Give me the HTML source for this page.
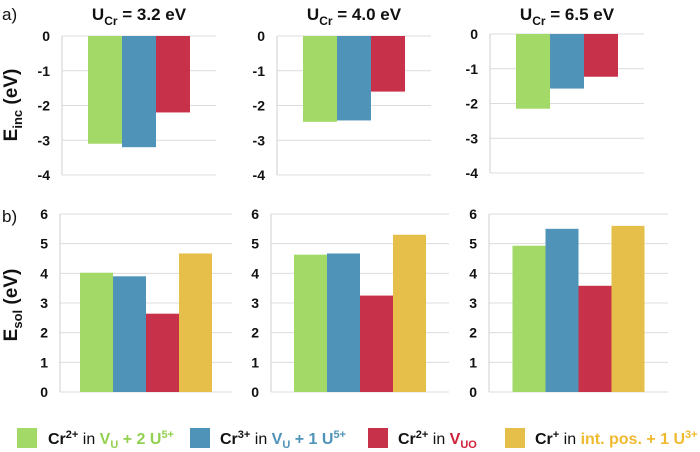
<!DOCTYPE html>
<html><head><meta charset="utf-8"><style>
body{margin:0;background:#fff;}
svg{display:block;font-family:"Liberation Sans",Arial,sans-serif;}
</style></head><body>
<svg id="c" width="700" height="452" viewBox="0 0 700 452">
<text x="2" y="20" font-size="17" fill="#111">a)</text>
<text x="2" y="222" font-size="17" fill="#111">b)</text>
<text transform="translate(17,105) rotate(-90)" text-anchor="middle" font-size="19" font-weight="bold" fill="#111">E<tspan font-size="13" dy="5">inc</tspan><tspan dy="-5"> (eV)</tspan></text>
<text transform="translate(17,305) rotate(-90)" text-anchor="middle" font-size="19" font-weight="bold" fill="#111">E<tspan font-size="13" dy="5">sol</tspan><tspan dy="-5"> (eV)</tspan></text>
<g id="plots"></g>
<g font-size="16" font-weight="bold">
 <rect x="17" y="428" width="20" height="20" fill="#a3d966"/>
 <text x="48" y="444" fill="#111">Cr<tspan font-size="11" dy="-6">2+</tspan><tspan dy="6" font-weight="normal"> in </tspan><tspan fill="#92d050">V<tspan font-size="11" dy="4">U</tspan><tspan dy="-4"> + 2 U</tspan><tspan font-size="11" dy="-6">5+</tspan></tspan></text>
 <rect x="190" y="428" width="20" height="20" fill="#4f93b8"/>
 <text x="220" y="444" fill="#111">Cr<tspan font-size="11" dy="-6">3+</tspan><tspan dy="6" font-weight="normal"> in </tspan><tspan fill="#4f93b8">V<tspan font-size="11" dy="4">U</tspan><tspan dy="-4"> + 1 U</tspan><tspan font-size="11" dy="-6">5+</tspan></tspan></text>
 <rect x="368" y="428" width="20" height="20" fill="#c8314a"/>
 <text x="398" y="444" fill="#111">Cr<tspan font-size="11" dy="-6">2+</tspan><tspan dy="6" font-weight="normal"> in </tspan><tspan fill="#d0213a">V<tspan font-size="11" dy="4">UO</tspan></tspan></text>
 <rect x="505" y="428" width="20" height="20" fill="#e6bf4a"/>
 <text x="535" y="444" fill="#111">Cr<tspan font-size="11" dy="-6">+</tspan><tspan dy="6" font-weight="normal"> in </tspan><tspan fill="#f0b930">int. pos. + 1 U<tspan font-size="11" dy="-6">3+</tspan></tspan></text>
</g>
</svg>
<script>
const panelTitles = ["3.2", "4.0", "6.5"];
const seriesNames = ["green", "blue", "red", "yellow"];
const incValues1 = [-3.1, -3.2, -2.2];
const incValues2 = [-2.47, -2.43, -1.6];
const incValues3 = [-2.15, -1.57, -1.23];
const solValues1 = [4.02, 3.9, 2.64, 4.67];
const solValues2 = [4.63, 4.67, 3.25, 5.3];
const solValues3 = [4.93, 5.5, 3.58, 5.6];
const incTicks = [0, -1, -2, -3, -4];
const solTicks = [0, 1, 2, 3, 4, 5, 6];

const colors = ["#a3d966", "#4f93b8", "#c8314a", "#e6bf4a"];
const NS = "http://www.w3.org/2000/svg";
const g = document.getElementById("plots");
function mk(tag, attrs, parent) {
  const e = document.createElementNS(NS, tag);
  for (const k in attrs) e.setAttribute(k, attrs[k]);
  (parent || g).appendChild(e);
  return e;
}
const topLayout = [{x0:62,x1:216},{x0:277,x1:431},{x0:490,x1:644}];
const botLayout = [{x0:60,x1:232},{x0:271,x1:449},{x0:489,x1:668}];
const incAll = [incValues1, incValues2, incValues3];
const solAll = [solValues1, solValues2, solValues3];

function drawPanel(L, vals, ticks, yMin, yMax, yTop, yBot, barW, name, idx) {
  const y = v => yTop + (yMax - v) / (yMax - yMin) * (yBot - yTop);
  ticks.forEach(t => {
    const l = mk("line", {x1:L.x0, x2:L.x1, y1:y(t), y2:y(t), stroke:"#dcdcdc", "stroke-width":1});
    
    
    const tx = mk("text", {x:L.x0-12, y:y(t)+5, "text-anchor":"end", "font-size":"14", "font-weight":"bold", fill:"#111"});
    tx.textContent = t;
    
    
  });
  const ax = mk("line", {x1:L.x0, x2:L.x0, y1:yTop, y2:yBot, stroke:"#cfcfcf", "stroke-width":1});
  
  
  const n = vals.length;
  const cx = (L.x0 + L.x1) / 2;
  const start = cx - n * barW / 2;
  vals.forEach((v, i) => {
    const a = y(0), b = y(v);
    const r = mk("rect", {x:start + i*barW, y:Math.min(a,b), width:barW, height:Math.abs(b-a), fill:colors[i]});
    
    
  });
}
panelTitles.forEach((t, i) => {
  const L = topLayout[i];
  const tt = mk("text", {x:(L.x0+L.x1)/2, y:20, "text-anchor":"middle", "font-size":"17", "font-weight":"bold", fill:"#111"});
  tt.innerHTML = 'U<tspan font-size="12" dy="5">Cr</tspan><tspan dy="-5"> = ' + t + ' eV</tspan>';
  
  
  const yt = i === 2 ? 34 : 36;
  drawPanel(L, incAll[i], incTicks, -4, 0, yt, yt + 139, 34, "inc", i);
  drawPanel(botLayout[i], solAll[i], solTicks, 0, 6, 214, 392, 33, "sol", i);
});
</script>
</body></html>
